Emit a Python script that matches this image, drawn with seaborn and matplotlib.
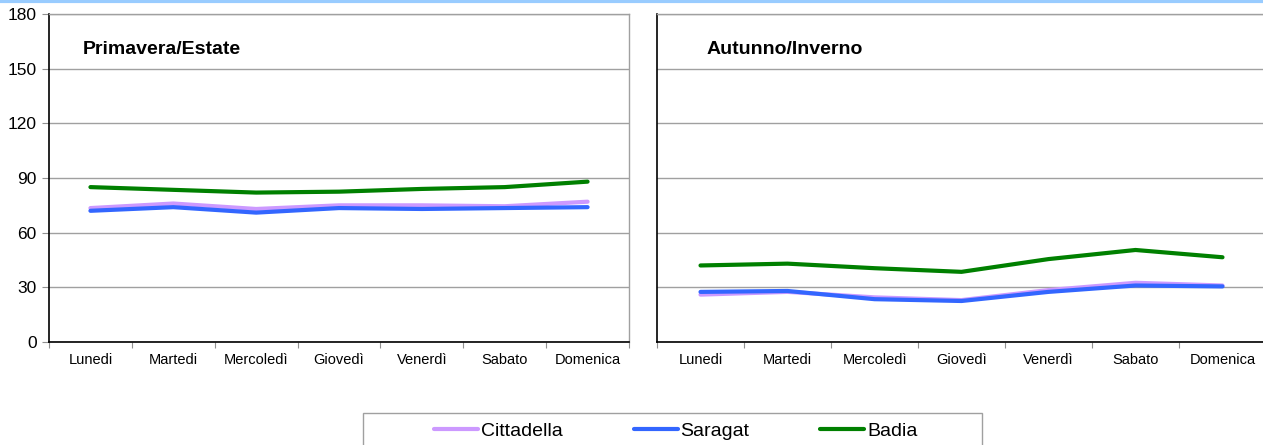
import matplotlib
matplotlib.use("Agg")
import matplotlib.pyplot as plt
import numpy as np
import pandas as pd
import seaborn as sns
from matplotlib.lines import Line2D
from matplotlib.patches import Rectangle

giorni = ["Lunedi", "Martedi", "Mercoledì", "Giovedì", "Venerdì", "Sabato", "Domenica"]
sedi = ["Cittadella", "Saragat", "Badia"]
colori = ["#CC99FF", "#3366FF", "#008000"]

# Primavera/Estate
pe_cittadella = [73.5, 76, 73, 75, 75, 74.5, 77]
pe_saragat = [72, 74, 71, 73.5, 73, 73.5, 74]
pe_badia = [85, 83.5, 82, 82.5, 84, 85, 88]

# Autunno/Inverno
ai_cittadella = [26, 27.5, 24.5, 23, 28.5, 32.5, 31]
ai_saragat = [27.5, 28, 23.5, 22.5, 27.5, 31, 30.5]
ai_badia = [42, 43, 40.5, 38.5, 45.5, 50.5, 46.5]

titoli = ["Primavera/Estate", "Autunno/Inverno"]
y_ticks = [0, 30, 60, 90, 120, 150, 180]


def long_df(serie):
    rows = []
    for sede, vals in zip(sedi, serie):
        for g, v in zip(giorni, vals):
            rows.append({"giorno": g, "sede": sede, "valore": v})
    return pd.DataFrame(rows)


sns.set_style("white")
plt.rcParams["font.family"] = ["Liberation Sans", "DejaVu Sans"]
plt.rcParams["text.color"] = "black"
plt.rcParams["xtick.color"] = "black"
plt.rcParams["ytick.color"] = "black"

fig = plt.figure(figsize=(12.63, 4.45), dpi=100)
ax1 = fig.add_axes([49 / 1263, 1 - 342 / 445, 580 / 1263, 328 / 445])
ax2 = fig.add_axes([657 / 1263, 1 - 342 / 445, 609 / 1263, 328 / 445])

dati = [long_df([pe_cittadella, pe_saragat, pe_badia]),
        long_df([ai_cittadella, ai_saragat, ai_badia])]

for i, (ax, df) in enumerate(zip([ax1, ax2], dati)):
    sns.lineplot(data=df, x="giorno", y="valore", hue="sede", hue_order=sedi,
                 palette=colori, linewidth=3.0, sort=False, legend=False, ax=ax)
    ax.set_ylim(0, 180)
    ax.set_xlim(-0.5, len(giorni) - 0.5)
    ax.set_yticks(y_ticks)
    ax.yaxis.grid(True, color="#A0A0A0", linewidth=1.0)
    ax.set_axisbelow(True)
    ax.set_xlabel("")
    ax.set_ylabel("")
    ax.set_xticks(range(len(giorni)))
    ax.set_xticklabels(giorni, fontsize=10.5, color="black")
    ax.set_xticks(np.arange(-0.5, len(giorni)), minor=True)
    ax.tick_params(axis="x", which="major", length=0, pad=8)
    ax.tick_params(axis="x", which="minor", length=4, width=0.8, color="#909090",
                   bottom=True)
    for s in ["left", "bottom"]:
        ax.spines[s].set_color("black")
        ax.spines[s].set_linewidth(1.2)
    for s in ["right", "top"]:
        ax.spines[s].set_color("#A0A0A0")
        ax.spines[s].set_linewidth(1.0)
    ax.text(0.059 if i == 0 else 0.082, 0.893, titoli[i], transform=ax.transAxes,
            fontsize=14, fontweight="bold", va="center", ha="left", color="black")

ax1.tick_params(axis="y", which="major", length=5, width=0.8, color="#909090",
                left=True, labelsize=12.5, pad=4, labelcolor="black")
ax2.tick_params(axis="y", labelleft=False, length=0)

# light blue line at the very top
fig.add_artist(Line2D([0, 1], [0.997, 0.997], transform=fig.transFigure,
                      color="#99CCFF", linewidth=3))

# legend frame (cut by the bottom edge, as in the reference)
fig.add_artist(Rectangle((363 / 1263, -0.05), 619 / 1263, 0.05 + 1 - 413 / 445,
                         transform=fig.transFigure, facecolor="white",
                         edgecolor="#A0A0A0", linewidth=1.0))

handles = [Line2D([], [], color=c, linewidth=3.0) for c in colori]
leg = fig.legend(handles, sedi, loc="center", ncol=3,
                 bbox_to_anchor=(676 / 1263, 1 - 431 / 445),
                 fontsize=14, frameon=False,
                 handlelength=2.25, handletextpad=0.15, columnspacing=3.65,
                 borderpad=0, borderaxespad=0)
for t in leg.get_texts():
    t.set_color("black")

fig.savefig("out.png", dpi=100)
